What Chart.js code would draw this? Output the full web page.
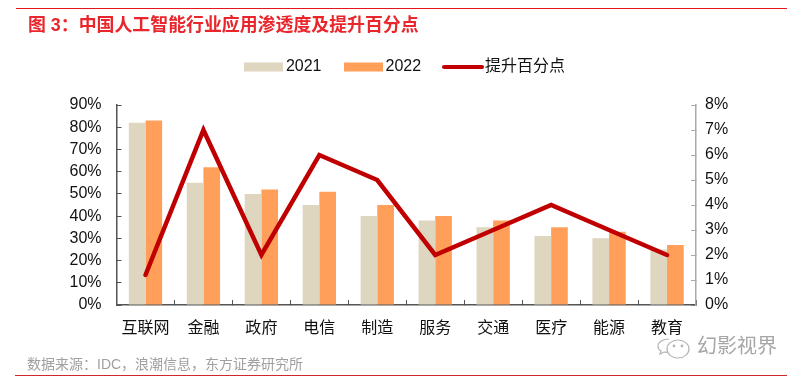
<!DOCTYPE html>
<html>
<head>
<meta charset="utf-8">
<script src="https://cdn.jsdelivr.net/npm/chart.js@4/dist/chart.umd.min.js"></script>
<style>
  html, body { margin: 0; padding: 0; background: #fff; width: 801px; height: 381px; overflow: hidden; }
  body { position: relative; font-family: "Liberation Sans", "Noto Sans CJK SC", sans-serif; }
  canvas { position: absolute; left: 0; top: 0; }
  .rule { position: absolute; height: 1px; }
  #title { position: absolute; left: 28px; top: 15px; font-size: 17.9px; font-weight: bold; color: #e9262c; white-space: nowrap; line-height: 20px; }
  #source { position: absolute; left: 27px; top: 355px; font-size: 14px; color: #a0a0a0; white-space: nowrap; line-height: 18px; }
  #mark { position: absolute; left: 697px; top: 334px; font-size: 20px; color: #a6a6a6; white-space: nowrap; line-height: 24px; }
  #icon { position: absolute; left: 656px; top: 336px; }
</style>
</head>
<body>
<canvas id="chart" width="801" height="381"></canvas>
<div class="rule" style="left:16px;width:771px;top:8px;background:#e8141c"></div>
<div id="title">图 3：中国人工智能行业应用渗透度及提升百分点</div>
<div id="source">数据来源：IDC，浪潮信息，东方证券研究所</div>
<div class="rule" style="left:15px;width:772px;top:375px;background:#d4262a"></div>
<svg id="icon" width="36" height="24" viewBox="0 0 36 24" fill="none" stroke="#b4b4b4" stroke-width="1.2">
  <path d="M13 3C7 3 2 6 2 10c0 2 1 4 3 5l-1 3 4-2c1 0 2 .4 3 .4"/>
  <ellipse cx="22" cy="13" rx="11" ry="9"/>
  <circle cx="18" cy="10" r=".8"/><circle cx="26" cy="10" r=".8"/>
</svg>
<div id="mark">幻影视界</div>
<script>
const categories = ["互联网", "金融", "政府", "电信", "制造", "服务", "交通", "医疗", "能源", "教育"];
const values2021 = [82, 55, 50, 45, 40, 38, 35, 31, 30, 25];
const values2022 = [83, 62, 52, 51, 45, 40, 38, 35, 33, 27];
const lift = [1.2, 7, 2, 6, 5, 2, 3, 4, 3, 2];
const seriesNames = ["2021", "2022", "提升百分点"];

const fontFamily = '"Liberation Sans", "Noto Sans CJK SC", sans-serif';
const colorA = "#dfd6bf";
const colorB = "#ff9f5a";
const colorLine = "#c00000";

// legend swatches, the default ones can't have different sizes
function swatch(w, h, color, round) {
  const c = document.createElement("canvas");
  c.width = w;
  c.height = 10;
  const ctx = c.getContext("2d");
  if (round) {
    ctx.strokeStyle = color;
    ctx.lineWidth = h;
    ctx.lineCap = "round";
    ctx.beginPath();
    ctx.moveTo(2, 5);
    ctx.lineTo(w - 2, 5);
    ctx.stroke();
  } else {
    ctx.fillStyle = color;
    ctx.fillRect(0, 5 - h / 2, w, h);
  }
  return c;
}
const swatches = [swatch(39, 9, colorA), swatch(39, 9, colorB), swatch(42, 4, colorLine, true)];

// empty box between legend and plot, legend padding alone can't give this gap
const legendGap = {
  id: "legendGap",
  beforeInit(chart) {
    Chart.layouts.addBox(chart, {
      position: "top",
      weight: 500,
      fullSize: true,
      options: {},
      width: 0,
      height: 20,
      isHorizontal() { return true; },
      update(width) { this.width = width; },
      draw() {},
    });
  },
};

new Chart(document.getElementById("chart"), {
  plugins: [legendGap],
  data: {
    labels: categories,
    datasets: [
      { type: "line", label: seriesNames[2], data: lift, yAxisID: "y2", borderColor: colorLine, backgroundColor: colorLine,
        borderWidth: 4.5, pointRadius: 0, tension: 0, borderCapStyle: "round", borderJoinStyle: "miter", order: 0 },
      { type: "bar", label: seriesNames[0], data: values2021, yAxisID: "y", backgroundColor: colorA, order: 1,
        categoryPercentage: 0.575, barPercentage: 1 },
      { type: "bar", label: seriesNames[1], data: values2022, yAxisID: "y", backgroundColor: colorB, order: 1,
        categoryPercentage: 0.575, barPercentage: 1 },
    ],
  },
  options: {
    responsive: false,
    animation: false,
    layout: { padding: { top: 31, left: 14, right: 0, bottom: 0 } },
    plugins: {
      tooltip: { enabled: false },
      legend: {
        position: "top",
        labels: {
          usePointStyle: true,
          pointStyleWidth: 28,
          padding: 28,
          color: "#111",
          font: { family: fontFamily, size: 16 },
          generateLabels(chart) {
            return seriesNames.map((name) => {
              const i = chart.data.datasets.findIndex((d) => d.label === name);
              return { text: name, datasetIndex: i, pointStyle: swatches[seriesNames.indexOf(name)], fontColor: "#111", lineWidth: 0 };
            });
          },
        },
      },
    },
    scales: {
      x: {
        grid: { drawOnChartArea: false, tickLength: -5, tickColor: "#555", tickWidth: 1 },
        border: { color: "#555", width: 1.5 },
        ticks: { color: "#111", font: { family: fontFamily, size: 16 }, padding: 19, maxRotation: 0, autoSkip: false },
        afterFit(scale) { scale.height = 76; },
      },
      y: {
        position: "left",
        min: 0,
        max: 90,
        grid: { drawOnChartArea: false, tickLength: -5, tickColor: "#555", tickWidth: 1 },
        border: { color: "#555", width: 1.5 },
        ticks: { stepSize: 10, color: "#111", font: { family: fontFamily, size: 16 }, padding: 20, callback: (v) => v + "%" },
        afterFit(scale) { scale.width = 102.5; },
      },
      y2: {
        position: "right",
        min: 0,
        max: 8,
        grid: { drawOnChartArea: false, tickLength: -5, tickColor: "#aaa", tickWidth: 1 },
        border: { color: "#aaa", width: 1.5 },
        ticks: { stepSize: 1, color: "#111", font: { family: fontFamily, size: 16 }, padding: 14, callback: (v) => v + "%" },
        afterFit(scale) { scale.width = 105; },
      },
    },
  },
});
</script>
</body>
</html>
